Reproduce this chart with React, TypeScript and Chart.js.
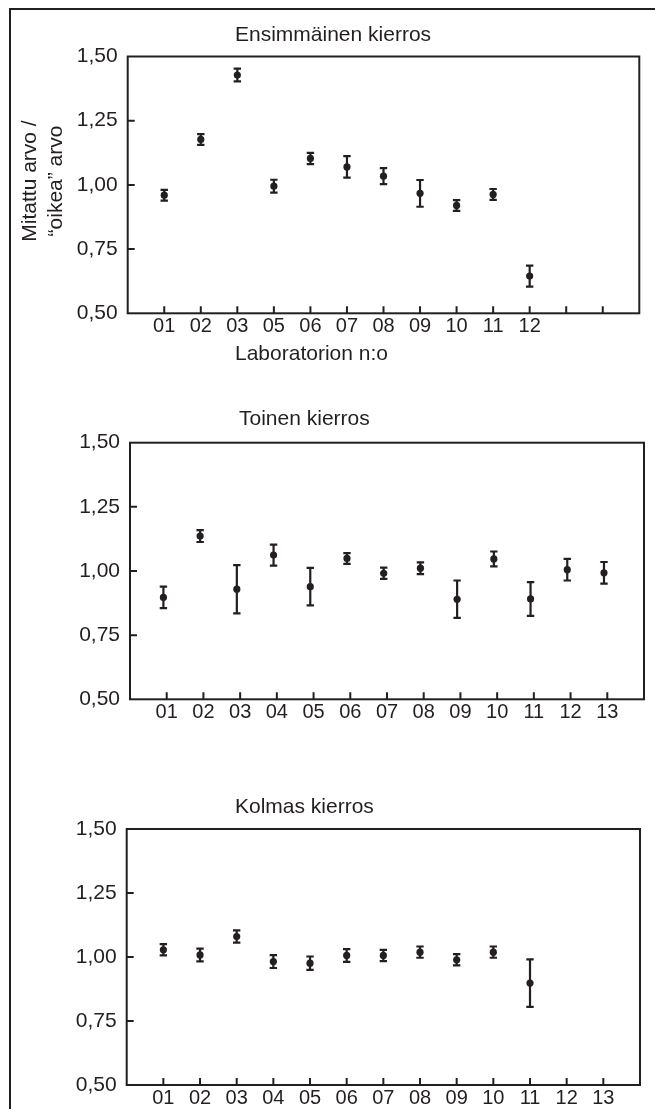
import React, { useEffect, useRef } from 'react';
import { Chart, registerables } from 'chart.js';

Chart.register(...registerables);

// ---------- data ----------
const TICK_SLOTS = 13;
const Y_MIN = 0.5;
const Y_MAX = 1.5;
const Y_STEP = 0.25;

const ROUND1_TITLE = 'Ensimmäinen kierros';
const ROUND1_LABS = ['01', '02', '03', '05', '06', '07', '08', '09', '10', '11', '12'];
const ROUND1_VALUES = [0.96, 1.177, 1.428, 0.995, 1.103, 1.07, 1.034, 0.967, 0.92, 0.963, 0.645];
const ROUND1_ERRORS = [0.021, 0.021, 0.025, 0.025, 0.022, 0.042, 0.031, 0.052, 0.021, 0.021, 0.041];

const ROUND2_TITLE = 'Toinen kierros';
const ROUND2_LABS = ['01', '02', '03', '04', '05', '06', '07', '08', '09', '10', '11', '12', '13'];
const ROUND2_VALUES = [0.897, 1.136, 0.929, 1.062, 0.939, 1.049, 0.991, 1.011, 0.89, 1.047, 0.891, 1.005, 0.993];
const ROUND2_ERRORS = [0.042, 0.023, 0.094, 0.041, 0.073, 0.021, 0.022, 0.023, 0.073, 0.029, 0.066, 0.042, 0.042];

const ROUND3_TITLE = 'Kolmas kierros';
const ROUND3_LABS = ['01', '02', '03', '04', '05', '06', '07', '08', '09', '10', '11', '12', '13'];
const ROUND3_VALUES = [1.028, 1.008, 1.08, 0.982, 0.976, 1.006, 1.006, 1.019, 0.989, 1.019, 0.898];
const ROUND3_ERRORS = [0.022, 0.025, 0.024, 0.025, 0.026, 0.025, 0.022, 0.022, 0.022, 0.022, 0.093];

const X_TITLE = 'Laboratorion n:o';
const Y_TITLE_LINES = ['Mitattu arvo /', '\u201Coikea\u201D arvo'];

// ---------- style / layout ----------
const W = 655;
const H = 1109;
const INK = '#231f20';
const FONT = '"Liberation Sans", Arial, Helvetica, sans-serif';
const Y_AXIS_W = 60;
const X_AXIS_H = 40;
const TICK_LEN = 7;
const CAP = 3.7;

type Panel = {
  title: string;
  titleX: number;
  titleY: number;
  labels: string[];
  values: number[];
  errors: number[];
  shift: number;
  area: { l: number; r: number; t: number; b: number };
  xTitle?: { x: number; y: number };
  yTitle?: { xs: number[]; y: number };
};

const PANELS: Panel[] = [
  {
    title: ROUND1_TITLE,
    titleX: 235,
    titleY: 41,
    labels: ROUND1_LABS,
    values: ROUND1_VALUES,
    errors: ROUND1_ERRORS,
    shift: 0,
    area: { l: 127.7, r: 639.3, t: 56.5, b: 313.3 },
    xTitle: { x: 235, y: 359.5 },
    yTitle: { xs: [36, 61.5], y: 181 },
  },
  {
    title: ROUND2_TITLE,
    titleX: 239,
    titleY: 425,
    labels: ROUND2_LABS,
    values: ROUND2_VALUES,
    errors: ROUND2_ERRORS,
    shift: -0.09,
    area: { l: 130, r: 644, t: 442.7, b: 699.3 },
  },
  {
    title: ROUND3_TITLE,
    titleX: 235,
    titleY: 812.7,
    labels: ROUND3_LABS,
    values: ROUND3_VALUES,
    errors: ROUND3_ERRORS,
    shift: 0,
    area: { l: 126.7, r: 640, t: 829, b: 1085 },
  },
];

function makeDecor(p: Panel) {
  return {
    id: 'panelDecor',
    beforeDatasetsDraw(chart: any) {
      const { ctx } = chart;
      const xs = chart.scales.x;
      const ys = chart.scales.y;
      ctx.save();
      ctx.strokeStyle = INK;
      ctx.lineWidth = 2.2;
      ctx.lineCap = 'butt';
      p.values.forEach((v, i) => {
        const x = xs.getPixelForValue(i + 1 + p.shift);
        const y1 = ys.getPixelForValue(v + p.errors[i]);
        const y2 = ys.getPixelForValue(v - p.errors[i]);
        ctx.beginPath();
        ctx.moveTo(x, y1);
        ctx.lineTo(x, y2);
        ctx.moveTo(x - CAP, y1);
        ctx.lineTo(x + CAP, y1);
        ctx.moveTo(x - CAP, y2);
        ctx.lineTo(x + CAP, y2);
        ctx.stroke();
      });
      ctx.restore();
    },
    afterDraw(chart: any) {
      const { ctx, chartArea: a } = chart;
      const xs = chart.scales.x;
      const ys = chart.scales.y;
      ctx.save();
      ctx.strokeStyle = INK;
      ctx.lineWidth = 2;
      ctx.strokeRect(a.left, a.top, a.right - a.left, a.bottom - a.top);
      ctx.beginPath();
      xs.ticks.forEach((t: any) => {
        if (t.value >= 1 && t.value <= TICK_SLOTS) {
          const x = xs.getPixelForValue(t.value);
          ctx.moveTo(x, a.bottom);
          ctx.lineTo(x, a.bottom - TICK_LEN);
        }
      });
      ys.ticks.forEach((t: any) => {
        if (t.value > Y_MIN + 1e-6 && t.value < Y_MAX - 1e-6) {
          const y = ys.getPixelForValue(t.value);
          ctx.moveTo(a.left, y);
          ctx.lineTo(a.left + TICK_LEN, y);
        }
      });
      ctx.stroke();

      ctx.fillStyle = INK;
      ctx.font = `21px ${FONT}`;
      ctx.textAlign = 'left';
      ctx.textBaseline = 'alphabetic';
      ctx.fillText(p.title, p.titleX, p.titleY);
      if (p.xTitle) {
        ctx.fillText(X_TITLE, p.xTitle.x, p.xTitle.y);
      }
      if (p.yTitle) {
        const yt = p.yTitle;
        Y_TITLE_LINES.forEach((line, i) => {
          ctx.save();
          ctx.translate(yt.xs[i], yt.y);
          ctx.rotate(-Math.PI / 2);
          ctx.textAlign = 'center';
          ctx.fillText(line, 0, 0);
          ctx.restore();
        });
      }
      ctx.restore();
    },
  };
}

function PanelChart({ p }: { p: Panel }) {
  const ref = useRef<HTMLCanvasElement | null>(null);
  useEffect(() => {
    if (!ref.current) return;
    const chart = new Chart(ref.current, {
      type: 'scatter',
      data: {
        datasets: [
          {
            data: p.values.map((v, i) => ({ x: i + 1 + p.shift, y: v })),
            pointRadius: 3.6,
            pointBackgroundColor: INK,
            pointBorderWidth: 0,
            showLine: false,
          },
        ],
      },
      options: {
        responsive: false,
        animation: false,
        events: [],
        layout: {
          padding: {
            left: p.area.l - Y_AXIS_W,
            right: W - p.area.r,
            top: p.area.t,
            bottom: H - p.area.b - X_AXIS_H,
          },
        },
        plugins: {
          legend: { display: false },
          tooltip: { enabled: false },
          title: { display: false },
        },
        scales: {
          x: {
            type: 'linear',
            min: 0,
            max: TICK_SLOTS + 1,
            afterFit: (s: any) => {
              s.height = X_AXIS_H;
            },
            grid: { display: false, drawTicks: false },
            border: { display: false },
            ticks: {
              stepSize: 1,
              autoSkip: false,
              maxRotation: 0,
              padding: 1,
              color: INK,
              font: { family: FONT, size: 20, lineHeight: 1.2 },
              callback: (v: any) => p.labels[Number(v) - 1] ?? '',
            },
          },
          y: {
            type: 'linear',
            min: Y_MIN,
            max: Y_MAX,
            afterFit: (s: any) => {
              s.width = Y_AXIS_W;
            },
            grid: { display: false, drawTicks: false },
            border: { display: false },
            ticks: {
              stepSize: Y_STEP,
              padding: 10,
              color: INK,
              font: { family: FONT, size: 21 },
              callback: (v: any) => Number(v).toFixed(2).replace('.', ','),
            },
          },
        },
      },
      plugins: [makeDecor(p)],
    } as any);
    return () => chart.destroy();
  }, [p]);
  return (
    <canvas
      ref={ref}
      width={W}
      height={H}
      style={{ position: 'absolute', left: 0, top: 0, width: W, height: H }}
    />
  );
}

export default function App() {
  return (
    <div
      style={{
        position: 'absolute',
        left: 0,
        top: 0,
        width: W,
        height: H,
        overflow: 'hidden',
        background: '#ffffff',
      }}
    >
      <div
        style={{
          position: 'absolute',
          left: 9,
          top: 8,
          width: 1000,
          height: 1400,
          borderTop: `2px solid ${INK}`,
          borderLeft: `2px solid ${INK}`,
        }}
      />
      {PANELS.map((p, i) => (
        <PanelChart key={i} p={p} />
      ))}
    </div>
  );
}
